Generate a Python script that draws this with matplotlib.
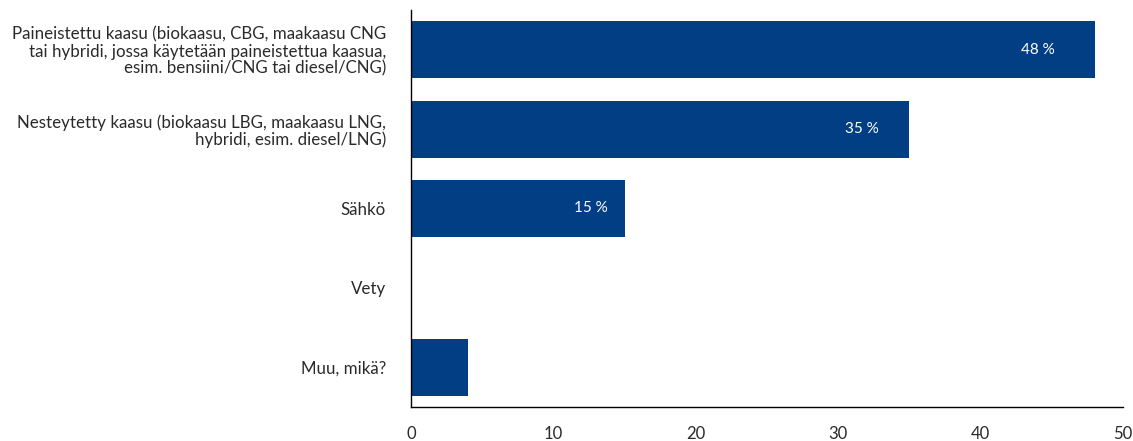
import matplotlib.pyplot as plt

categories = [
    "Paineistettu kaasu (biokaasu, CBG, maakaasu CNG\ntai hybridi, jossa käytetään paineistettua kaasua,\nesim. bensiini/CNG tai diesel/CNG)",
    "Nesteytetty kaasu (biokaasu LBG, maakaasu LNG,\nhybridi, esim. diesel/LNG)",
    "Sähkö",
    "Vety",
    "Muu, mikä?",
]
values = [48, 35, 15, 0, 4]
value_labels = ["48 %", "35 %", "15 %", "", ""]
xticks = [0, 10, 20, 30, 40, 50]

bar_color = "#023e84"
text_color = "#2a2a2a"
plt.rcParams['font.family'] = ['Lato', 'DejaVu Sans']

fig = plt.figure(figsize=(11.33, 4.41), dpi=100)
ax = fig.add_axes([411 / 1133, 1 - 407 / 441, 712 / 1133, 397 / 441])

pos = range(len(categories))
ax.barh(pos, values, height=0.72, color=bar_color)

# value labels sit inside the bar, a little in from its end
for i, (v, lab) in enumerate(zip(values, value_labels)):
    if lab:
        ax.text(v * 0.95 - 1.6, i, lab, color="white", ha="center", va="center", fontsize=11)

ax.set_xlim(0, 50)
ax.set_ylim(4.5, -0.5)
ax.set_yticks(list(pos))
ax.set_yticklabels(categories, fontsize=12.2, color=text_color, linespacing=1.05)
ax.set_xticks(xticks)
ax.set_xticklabels([str(t) for t in xticks], fontsize=12, color=text_color)
ax.tick_params(axis="both", length=0)
ax.tick_params(axis="x", pad=14)
ax.tick_params(axis="y", pad=18)

for side in ["top", "right"]:
    ax.spines[side].set_visible(False)
for side in ["left", "bottom"]:
    ax.spines[side].set_color("black")
    ax.spines[side].set_linewidth(1.0)

fig.savefig("out.png", dpi=100)
